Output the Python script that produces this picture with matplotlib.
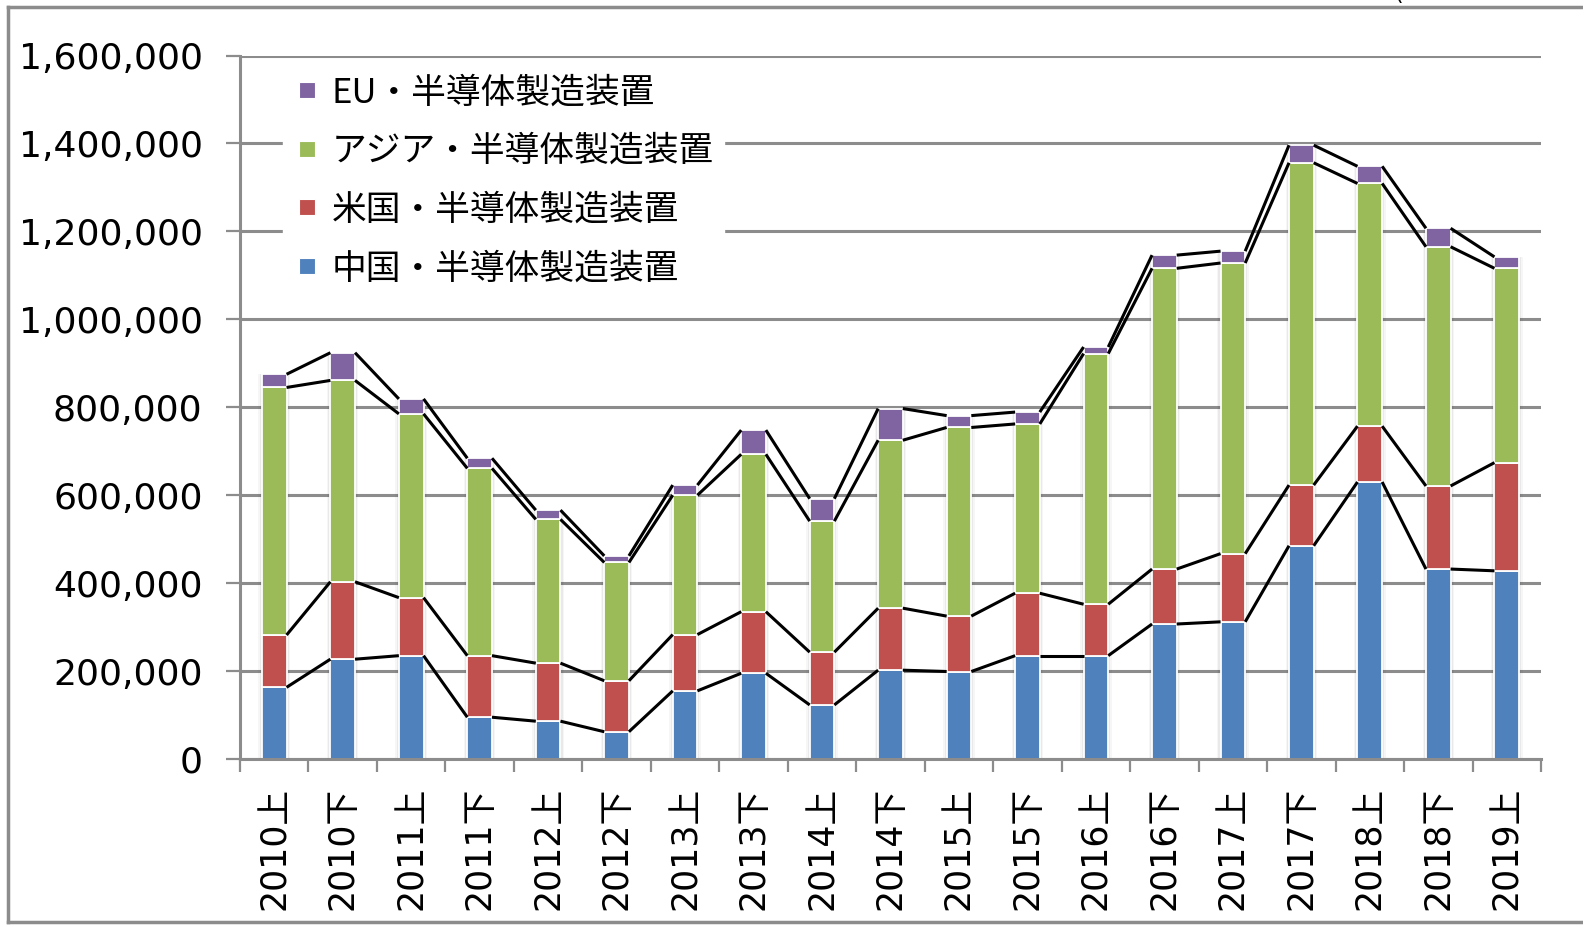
import matplotlib
matplotlib.use('Agg')
import matplotlib.pyplot as plt
import numpy as np
from matplotlib.lines import Line2D
from matplotlib.ticker import FuncFormatter, FixedLocator

categories = ['2010上', '2010下', '2011上', '2011下', '2012上', '2012下', '2013上', '2013下',
              '2014上', '2014下', '2015上', '2015下', '2016上', '2016下', '2017上', '2017下',
              '2018上', '2018下', '2019上']
china = [163000, 227000, 235000, 95000, 86000, 62000, 155000, 195000, 123000, 202000,
         199000, 235000, 235000, 307000, 312000, 485000, 630000, 432000, 428000]
usa = [119000, 176000, 132000, 140000, 132000, 116000, 128000, 140000, 120000, 141000,
       126000, 142000, 117000, 125000, 155000, 138000, 127000, 189000, 246000]
asia = [563000, 458000, 418000, 426000, 327000, 269000, 317000, 358000, 298000, 382000,
        429000, 385000, 570000, 684000, 661000, 733000, 552000, 544000, 442000]
eu = [30000, 63000, 34000, 23000, 21000, 15000, 23000, 55000, 51000, 72000,
      27000, 27000, 15000, 30000, 27000, 40000, 39000, 42000, 26000]
series_names = ['中国・半導体製造装置', '米国・半導体製造装置', 'アジア・半導体製造装置', 'EU・半導体製造装置']
colors = ['#4F81BD', '#C0504D', '#9BBB59', '#8064A2']
y_ticks = [0, 200000, 400000, 600000, 800000, 1000000, 1200000, 1400000, 1600000]

W, H = 1583, 926
fig = plt.figure(figsize=(W / 100, H / 100), dpi=100)
ax = fig.add_axes([240 / W, 1 - 759 / H, (1541 - 240) / W, (759 - 55.5) / H])

grid_color = '#8c8c8c'
x = np.arange(len(categories))
bw = 0.36
data = [china, usa, asia, eu]
totals = np.sum(np.array(data), axis=0)

# soft shadow around bars
for extra, a in [(0.10, 0.035), (0.06, 0.05), (0.03, 0.06)]:
    ax.bar(x, totals, width=bw + extra, color='black', alpha=a, linewidth=0, zorder=1.5)

bottom = np.zeros(len(categories))
tops = []
for vals, c in zip(data, colors):
    v = np.array(vals, dtype=float)
    ax.bar(x, v, bottom=bottom, width=bw, color=c, edgecolor='white', linewidth=1.3, zorder=2)
    bottom = bottom + v
    tops.append(bottom.copy())

# series lines
for t in tops:
    for i in range(len(categories) - 1):
        ax.plot([x[i] + bw / 2, x[i + 1] - bw / 2], [t[i], t[i + 1]], color='black',
                lw=2.2, zorder=3, solid_capstyle='butt')

ax.set_xlim(-0.5, len(categories) - 0.5)
ax.set_ylim(0, 1600000)
ax.set_yticks(y_ticks)
ax.yaxis.set_major_formatter(FuncFormatter(lambda v, p: f'{int(v):,}'))
ax.grid(axis='y', color=grid_color, lw=2.2, zorder=0.5)
ax.set_axisbelow(True)
for s in ['top', 'right']:
    ax.spines[s].set_visible(False)
for s in ['left', 'bottom']:
    ax.spines[s].set_color(grid_color)
    ax.spines[s].set_linewidth(2.2)

ax.set_xticks(x)
ax.set_xticklabels(categories, rotation=90, fontsize=25,
                   family=['DejaVu Sans', 'Noto Sans CJK JP'])
ax.xaxis.set_minor_locator(FixedLocator(np.arange(-0.5, len(categories), 1.0)))
ax.tick_params(axis='x', which='major', length=0, pad=20)
ax.tick_params(axis='x', which='minor', length=9, width=1.6, color=grid_color)
ax.tick_params(axis='y', which='major', length=10, width=1.6, color=grid_color,
               labelsize=26, pad=17)

handles = [Line2D([], [], marker='s', linestyle='none', markersize=11,
                  markerfacecolor=c, markeredgecolor='white', markeredgewidth=0.8)
           for c in colors]
leg = ax.legend(handles[::-1], series_names[::-1], loc='upper left',
                bbox_to_anchor=(283 / W, 1 - 65 / H), bbox_transform=fig.transFigure,
                prop={'family': ['Noto Sans CJK JP', 'DejaVu Sans'], 'size': 25},
                frameon=True, fancybox=False, framealpha=1, edgecolor='white',
                handlelength=0.8, handletextpad=0.3, labelspacing=0.68, borderpad=0.3,
                borderaxespad=0)
leg.set_zorder(5)

# outer chart border
bc = '#8c8c8c'
fig.add_artist(Line2D([8 / W, 8 / W], [1 - 7 / H, 1 - 922 / H], color=bc, lw=2.5))
fig.add_artist(Line2D([8 / W, 1.0], [1 - 7 / H, 1 - 7 / H], color=bc, lw=2.5))
fig.add_artist(Line2D([8 / W, 1.0], [1 - 922 / H, 1 - 922 / H], color=bc, lw=2.5))
fig.text(1398 / W, 1 + 6 / H, '(', fontsize=16, ha='center', va='center')

fig.savefig('out.png', dpi=100)
